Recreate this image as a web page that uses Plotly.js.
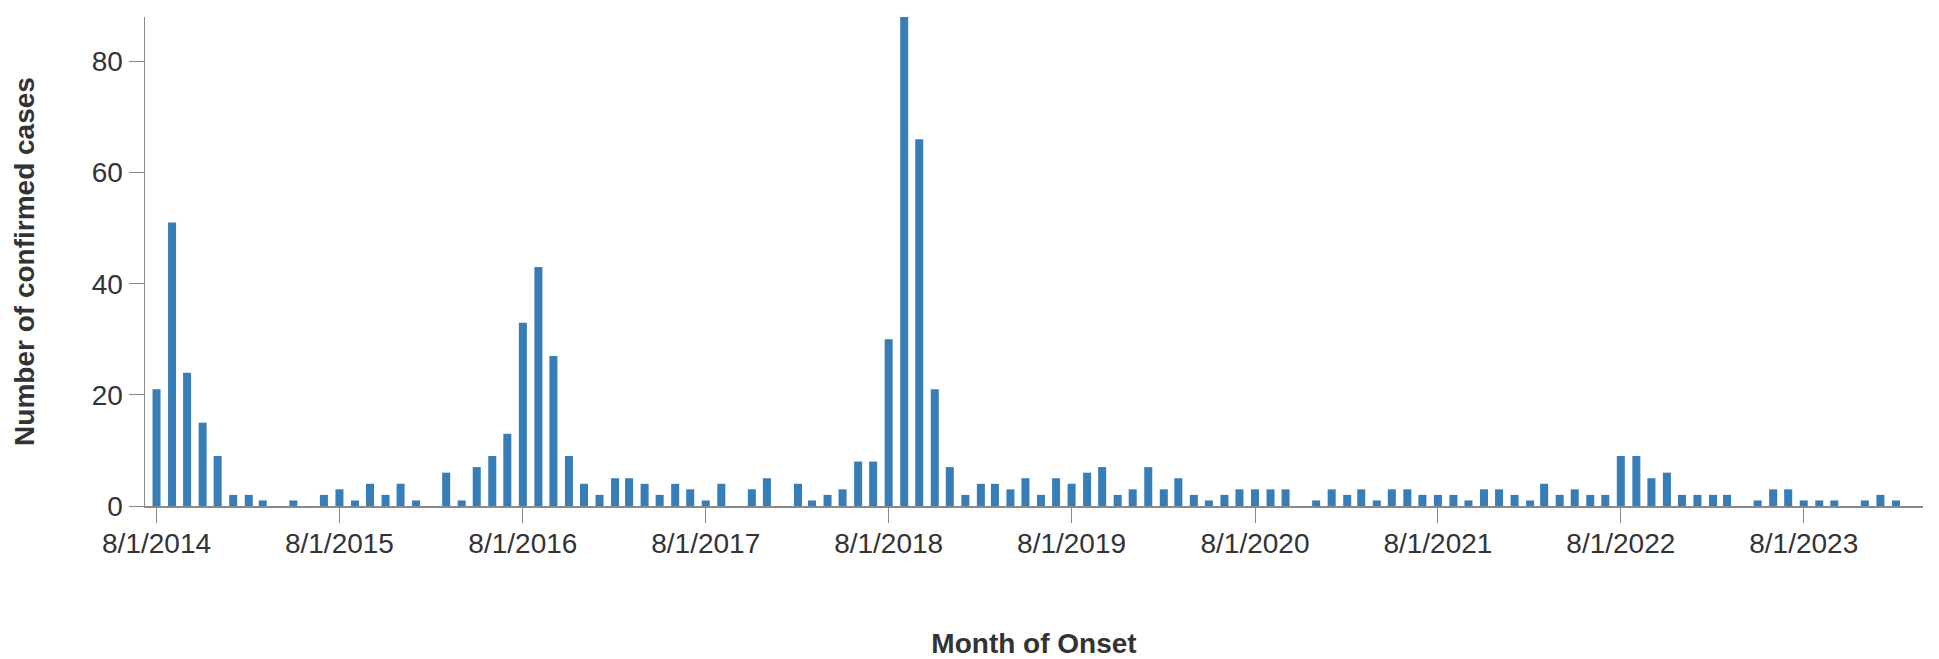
<!DOCTYPE html>
<html>
<head>
<meta charset="utf-8">
<script src="https://cdn.plot.ly/plotly-3.0.1.min.js"></script>
<style>
  html, body { margin: 0; padding: 0; background: #fff; }
  #chart { width: 1939px; height: 659px; }
</style>
</head>
<body>
<div id="chart"></div>
<script>
// Monthly confirmed cases, Aug 2014 – Feb 2024
const months = [
  "2014-08-01","2014-09-01","2014-10-01","2014-11-01","2014-12-01",
  "2015-01-01","2015-02-01","2015-03-01","2015-04-01","2015-05-01","2015-06-01","2015-07-01","2015-08-01","2015-09-01","2015-10-01","2015-11-01","2015-12-01",
  "2016-01-01","2016-02-01","2016-03-01","2016-04-01","2016-05-01","2016-06-01","2016-07-01","2016-08-01","2016-09-01","2016-10-01","2016-11-01","2016-12-01",
  "2017-01-01","2017-02-01","2017-03-01","2017-04-01","2017-05-01","2017-06-01","2017-07-01","2017-08-01","2017-09-01","2017-10-01","2017-11-01","2017-12-01",
  "2018-01-01","2018-02-01","2018-03-01","2018-04-01","2018-05-01","2018-06-01","2018-07-01","2018-08-01","2018-09-01","2018-10-01","2018-11-01","2018-12-01",
  "2019-01-01","2019-02-01","2019-03-01","2019-04-01","2019-05-01","2019-06-01","2019-07-01","2019-08-01","2019-09-01","2019-10-01","2019-11-01","2019-12-01",
  "2020-01-01","2020-02-01","2020-03-01","2020-04-01","2020-05-01","2020-06-01","2020-07-01","2020-08-01","2020-09-01","2020-10-01","2020-11-01","2020-12-01",
  "2021-01-01","2021-02-01","2021-03-01","2021-04-01","2021-05-01","2021-06-01","2021-07-01","2021-08-01","2021-09-01","2021-10-01","2021-11-01","2021-12-01",
  "2022-01-01","2022-02-01","2022-03-01","2022-04-01","2022-05-01","2022-06-01","2022-07-01","2022-08-01","2022-09-01","2022-10-01","2022-11-01","2022-12-01",
  "2023-01-01","2023-02-01","2023-03-01","2023-04-01","2023-05-01","2023-06-01","2023-07-01","2023-08-01","2023-09-01","2023-10-01","2023-11-01","2023-12-01",
  "2024-01-01","2024-02-01"
];
const cases = [
  21, 51, 24, 15, 9,
  2, 2, 1, 0, 1, 0, 2, 3, 1, 4, 2, 4,
  1, 0, 6, 1, 7, 9, 13, 33, 43, 27, 9, 4,
  2, 5, 5, 4, 2, 4, 3, 1, 4, 0, 3, 5,
  0, 4, 1, 2, 3, 8, 8, 30, 88, 66, 21, 7,
  2, 4, 4, 3, 5, 2, 5, 4, 6, 7, 2, 3,
  7, 3, 5, 2, 1, 2, 3, 3, 3, 3, 0, 1,
  3, 2, 3, 1, 3, 3, 2, 2, 2, 1, 3, 3,
  2, 1, 4, 2, 3, 2, 2, 9, 9, 5, 6, 2,
  2, 2, 2, 0, 1, 3, 3, 1, 1, 1, 0, 1,
  2, 1
];
const xTickVals = ["2014-08-01","2015-08-01","2016-08-01","2017-08-01","2018-08-01","2019-08-01","2020-08-01","2021-08-01","2022-08-01","2023-08-01"];
const xTickText = ["8/1/2014","8/1/2015","8/1/2016","8/1/2017","8/1/2018","8/1/2019","8/1/2020","8/1/2021","8/1/2022","8/1/2023"];
const yTickVals = [0, 20, 40, 60, 80];

const DAY = 24 * 3600 * 1000;
const FONT = "Liberation Sans, Arial, Helvetica, sans-serif";
const TEXT = "#333333";
const AXIS = "#8a8a8a";

const trace = {
  type: "bar",
  x: months,
  y: cases,
  width: 16 * DAY,
  marker: { color: "#377eb8" },
  hoverinfo: "x+y"
};

const layout = {
  width: 1939,
  height: 659,
  margin: { l: 145, r: 16, t: 17, b: 153 },
  paper_bgcolor: "#ffffff",
  plot_bgcolor: "#ffffff",
  showlegend: false,
  font: { family: FONT, color: TEXT, size: 28 },
  xaxis: {
    type: "date",
    range: ["2014-07-09", "2024-03-26"],
    tickmode: "array",
    tickvals: xTickVals,
    ticktext: xTickText,
    ticks: "outside",
    ticklen: 15,
    tickwidth: 1,
    tickcolor: AXIS,
    showline: true,
    linecolor: AXIS,
    linewidth: 1.5,
    showgrid: false,
    zeroline: false,
    automargin: false,
    ticklabelstandoff: -3,
    tickfont: { family: FONT, size: 28, color: TEXT },
    title: {
      text: "Month of Onset",
      font: { family: FONT, size: 28, color: TEXT, weight: "bold" },
      standoff: 82
    }
  },
  yaxis: {
    range: [0, 88],
    tickmode: "array",
    tickvals: yTickVals,
    ticks: "outside",
    ticklen: 15,
    tickwidth: 1,
    tickcolor: AXIS,
    showline: true,
    linecolor: AXIS,
    linewidth: 1.5,
    showgrid: false,
    zeroline: false,
    automargin: false,
    tickfont: { family: FONT, size: 28, color: TEXT },
    title: {
      text: "Number of confirmed cases",
      font: { family: FONT, size: 28, color: TEXT, weight: "bold" },
      standoff: 49
    }
  },
  bargap: 0.5
};

Plotly.newPlot("chart", [trace], layout, { displayModeBar: false, staticPlot: true });
</script>
</body>
</html>
